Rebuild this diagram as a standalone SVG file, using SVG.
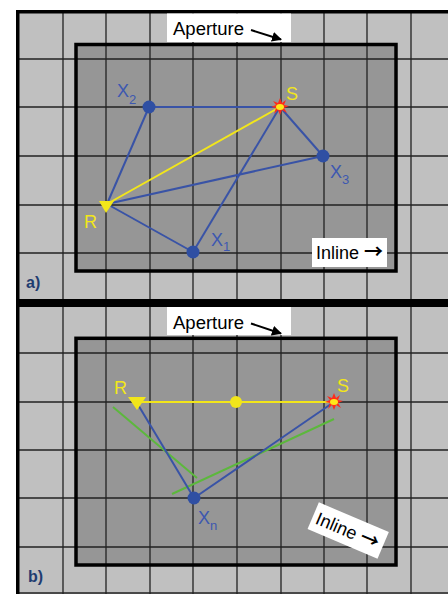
<svg xmlns="http://www.w3.org/2000/svg" width="448" height="594" viewBox="0 0 448 594">
<defs>
<style>
.grid{stroke:#222;stroke-width:1.3;fill:none}
.frame{stroke:#000;fill:none}
.blue{stroke:#3953a6;stroke-width:2;fill:none}
.yel{stroke:#f2e61a;stroke-width:2;fill:none}
.grn{stroke:#5cb83c;stroke-width:2;fill:none}
.dot{fill:#2f4fa3}
.lblB{font-family:"Liberation Sans",Arial,sans-serif;fill:#3d58b0;font-size:18px}
.lblY{font-family:"Liberation Sans",Arial,sans-serif;fill:#f2e61a;font-size:18px}
.sub{font-size:13px}
.box{fill:#fff}
.txt{font-family:"Liberation Sans",Arial,sans-serif;fill:#000;font-size:18px}
.arr{font-family:"Noto Sans CJK SC","DejaVu Sans",sans-serif;font-size:19px;font-weight:bold}
.pl{font-family:"Liberation Sans",Arial,sans-serif;fill:#1f3c70;font-size:16px;font-weight:bold}
</style>
<marker id="ah" viewBox="0 0 10 10" refX="9" refY="5" markerWidth="5" markerHeight="5" orient="auto">
<path d="M0,0 L10,5 L0,10 z" fill="#000"/>
</marker>
<g id="star">
<polygon points="0,-9 2,-4 6,-7 4,-2 9,-1 4,1 7,6 2,3 0,8 -2,3 -6,7 -4,1 -9,0 -4,-2 -7,-6 -2,-4" fill="#ff2a1a"/>
<ellipse cx="0" cy="0" rx="4" ry="3" fill="#ffe81a"/>
</g>
</defs>
<rect x="0" y="0" width="448" height="594" fill="#fff"/>
<rect x="16" y="10" width="440" height="590" fill="#c0c0c0"/>
<g id="panel-a-bg">
<rect x="76" y="44.5" width="320" height="226.5" fill="#969696"/>
</g>
<g id="panel-b-bg">
<rect x="76" y="338.3" width="320" height="226.7" fill="#969696"/>
</g>
<g id="grid">
<path class="grid" d="M63,10V600 M106,10V600 M150,10V600 M193,10V600 M237,10V600 M281,10V600 M324,10V600 M367,10V600 M411,10V600"/>
<path class="grid" d="M16,59H448 M16,107H448 M16,156H448 M16,205H448 M16,253H448 M16,353H448 M16,402H448 M16,450H448 M16,498H448 M16,547H448 M16,593H448"/>
</g>
<g id="frames">
<path d="M17.75,10V600" stroke="#000" stroke-width="3.5"/>
<path d="M16,11.75H448" stroke="#000" stroke-width="3.5"/>
<rect x="16" y="299" width="440" height="8" fill="#000"/>
<rect class="frame" x="76" y="44.5" width="320" height="226.5" stroke-width="3.5"/>
<rect class="frame" x="76" y="338.3" width="320" height="226.7" stroke-width="3.5"/>
</g>
<g id="aperture-a">
<rect class="box" x="167" y="13.5" width="124" height="28.5"/>
<text class="txt" x="173" y="35" textLength="71" lengthAdjust="spacingAndGlyphs">Aperture</text>
<line x1="251" y1="30" x2="281" y2="39.5" stroke="#000" stroke-width="2" marker-end="url(#ah)"/>
</g>
<g id="aperture-b">
<rect class="box" x="167" y="307" width="124" height="28"/>
<text class="txt" x="173" y="329" textLength="71" lengthAdjust="spacingAndGlyphs">Aperture</text>
<line x1="251" y1="323.5" x2="281" y2="333.5" stroke="#000" stroke-width="2" marker-end="url(#ah)"/>
</g>
<g id="connectors">
<line class="blue" x1="149" y1="107" x2="280" y2="107"/>
<line class="blue" x1="149" y1="107" x2="107" y2="204"/>
<line class="blue" x1="107" y1="204" x2="193" y2="252"/>
<line class="blue" x1="193" y1="252" x2="280" y2="107"/>
<line class="blue" x1="280" y1="107" x2="323" y2="156"/>
<line class="blue" x1="107" y1="204" x2="323" y2="156"/>
<line class="yel" x1="107" y1="204" x2="280" y2="107"/>
<line class="grn" x1="113" y1="407" x2="197" y2="478"/>
<line class="grn" x1="172" y1="494" x2="334" y2="419"/>
<line class="blue" x1="137" y1="403" x2="194" y2="498"/>
<line class="blue" x1="194" y1="498" x2="334" y2="402"/>
<line class="yel" x1="140" y1="402" x2="334" y2="402"/>
</g>
<g id="X2">
<circle class="dot" cx="149" cy="107" r="6.5"/>
<text class="lblB" x="117" y="97">X<tspan class="sub" dy="7">2</tspan></text>
</g>
<g id="S-a">
<use href="#star" x="280" y="107"/>
<text class="lblY" x="286" y="100">S</text>
</g>
<g id="X3">
<circle class="dot" cx="323" cy="156" r="6.5"/>
<text class="lblB" x="330" y="178">X<tspan class="sub" dy="6">3</tspan></text>
</g>
<g id="R-a">
<polygon points="99,201 114,201 106,213" fill="#f2e61a"/>
<text class="lblY" x="84" y="228">R</text>
</g>
<g id="X1">
<circle class="dot" cx="193" cy="252" r="6.5"/>
<text class="lblB" x="211" y="246">X<tspan class="sub" dy="5">1</tspan></text>
</g>
<g id="inline-a">
<rect class="box" x="312" y="238" width="75" height="29"/>
<text class="txt" x="316" y="259">Inline <tspan class="arr">→</tspan></text>
</g>
<g id="label-a">
<text class="pl" x="26" y="288">a)</text>
</g>
<g id="R-b">
<polygon points="128,397 146,397 137,410" fill="#f2e61a"/>
<text class="lblY" x="114" y="394">R</text>
</g>
<g id="mid-b">
<circle cx="236" cy="402" r="6" fill="#f2e61a"/>
</g>
<g id="S-b">
<use href="#star" x="334" y="402"/>
<text class="lblY" x="337" y="392">S</text>
</g>
<g id="Xn">
<circle class="dot" cx="194" cy="498" r="6.5"/>
<text class="lblB" x="198" y="524">X<tspan class="sub" dy="6">n</tspan></text>
</g>
<g id="inline-b" transform="rotate(23 348 531)">
<rect class="box" x="310" y="516" width="76" height="29"/>
<text class="txt" x="314" y="537">Inline <tspan class="arr">→</tspan></text>
</g>
<g id="label-b">
<text class="pl" x="28" y="582">b)</text>
</g>
</svg>
